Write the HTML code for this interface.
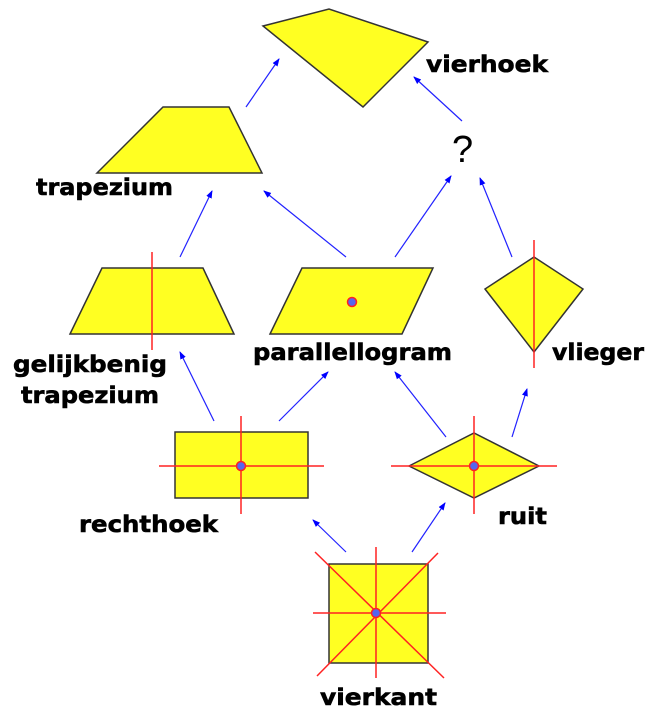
<!DOCTYPE html>
<html><head><style>
html,body{margin:0;padding:0;background:#fff;}
svg{display:block;}
text{font-family:"DejaVu Sans","Liberation Sans",sans-serif;font-weight:bold;font-size:23px;fill:#000;stroke:#000;stroke-width:0.6;}
</style></head><body>
<svg width="652" height="720" viewBox="0 0 652 720" xmlns="http://www.w3.org/2000/svg">
<defs>
<marker id="a" markerWidth="8" markerHeight="8" refX="7" refY="4" orient="auto" markerUnits="userSpaceOnUse">
<path d="M0,1 L8,4 L0,7 Z" fill="#0000ff"/>
</marker>
</defs>
<g fill="#ffff22" stroke="#333" stroke-width="1.5">
<polygon points="263,26 329,9 428,42 363,107"/>
<polygon points="97,173 163,107 229,107 262,173"/>
<polygon points="70,334 102,268 203,268 234,334"/>
<polygon points="270,334 302,268 433,268 402,334"/>
<polygon points="534,257 485,289 534,352 583,289"/>
<rect x="175" y="432" width="133" height="66"/>
<polygon points="409,466 474,433 539,466 474,498"/>
<rect x="329" y="564" width="99" height="99"/>
</g>
<g stroke="#ff2222" stroke-width="1.5" fill="none">
<line x1="152" y1="252" x2="152" y2="350"/>
<line x1="534" y1="240" x2="534" y2="368"/>
<line x1="241" y1="416" x2="241" y2="514"/>
<line x1="159" y1="466" x2="324" y2="466"/>
<line x1="474" y1="416" x2="474" y2="514"/>
<line x1="391" y1="466" x2="557" y2="466"/>
<line x1="376" y1="547" x2="376" y2="678"/>
<line x1="313" y1="613" x2="446" y2="613"/>
<line x1="315" y1="552" x2="444" y2="678"/>
<line x1="438" y1="553" x2="317" y2="676"/>
</g>
<g fill="#5566ee" stroke="#ff2222" stroke-width="1.5">
<circle cx="352" cy="302" r="4.5"/>
<circle cx="241" cy="466" r="4.5"/>
<circle cx="474" cy="466" r="4.5"/>
<circle cx="376" cy="613" r="4.5"/>
</g>
<g stroke="#2222ff" stroke-width="1.2" marker-end="url(#a)">
<line x1="246" y1="107" x2="279" y2="59"/>
<line x1="462" y1="121" x2="414" y2="77"/>
<line x1="180" y1="257" x2="212" y2="191"/>
<line x1="346" y1="257" x2="264" y2="191"/>
<line x1="395" y1="257" x2="451" y2="176"/>
<line x1="512" y1="257" x2="480" y2="178"/>
<line x1="214" y1="421" x2="180" y2="352"/>
<line x1="279" y1="421" x2="328" y2="372"/>
<line x1="446" y1="437" x2="395" y2="372"/>
<line x1="512" y1="437" x2="527" y2="389"/>
<line x1="346" y1="552" x2="313" y2="520"/>
<line x1="412" y1="552" x2="445" y2="503"/>
</g>
<text x="426" y="72" textLength="122" lengthAdjust="spacingAndGlyphs">vierhoek</text>
<text x="36" y="195" textLength="137" lengthAdjust="spacingAndGlyphs">trapezium</text>
<text x="253" y="360" textLength="199" lengthAdjust="spacingAndGlyphs">parallellogram</text>
<text x="552" y="360" textLength="92" lengthAdjust="spacingAndGlyphs">vlieger</text>
<text x="13" y="372" textLength="154" lengthAdjust="spacingAndGlyphs">gelijkbenig</text>
<text x="21" y="403" textLength="138" lengthAdjust="spacingAndGlyphs">trapezium</text>
<text x="79" y="532" textLength="139" lengthAdjust="spacingAndGlyphs">rechthoek</text>
<text x="498" y="524" textLength="49" lengthAdjust="spacingAndGlyphs">ruit</text>
<text x="320" y="705" textLength="117" lengthAdjust="spacingAndGlyphs">vierkant</text>
<text x="452" y="162" style="font-weight:normal;font-family:'Liberation Sans',sans-serif;font-size:38px;stroke:none">?</text>
</svg>
</body></html>
